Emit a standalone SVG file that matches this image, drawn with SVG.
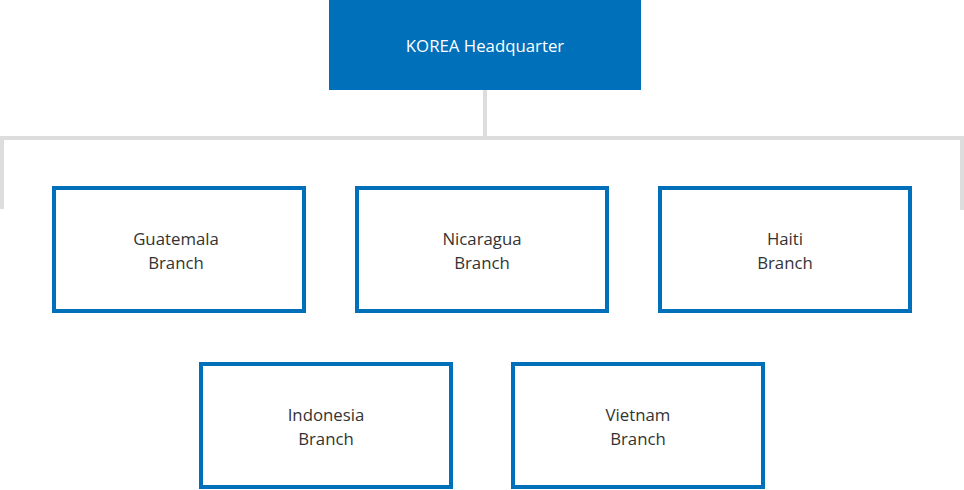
<svg xmlns="http://www.w3.org/2000/svg" width="964" height="490" viewBox="0 0 964 490">
<style>
.box{fill:#fff;stroke:#0070ba;stroke-width:4}
.t{font-family:"Open Sans","Noto Sans",sans-serif;font-size:16.8px;fill:#333;text-anchor:middle}
.hq{fill:#fff}
.ln{fill:none;stroke:#dddddd;stroke-width:4}
</style>
<rect width="964" height="490" fill="#fff"/>
<g id="connectors">
<path class="ln" d="M485 90V138M2 209V138H962V210"/>
</g>
<g id="hq">
<rect x="329" y="0" width="312" height="90" fill="#0070ba"/>
<text class="t hq" x="485" y="52">KOREA Headquarter</text>
</g>
<g id="guatemala">
<rect class="box" x="54" y="188" width="250" height="123"/>
<text class="t" x="176" y="245">Guatemala</text>
<text class="t" x="176" y="269">Branch</text>
</g>
<g id="nicaragua">
<rect class="box" x="357" y="188" width="250" height="123"/>
<text class="t" x="482" y="245">Nicaragua</text>
<text class="t" x="482" y="269">Branch</text>
</g>
<g id="haiti">
<rect class="box" x="660" y="188" width="250" height="123"/>
<text class="t" x="785" y="245">Haiti</text>
<text class="t" x="785" y="269">Branch</text>
</g>
<g id="indonesia">
<rect class="box" x="201" y="364" width="250" height="123"/>
<text class="t" x="326" y="421">Indonesia</text>
<text class="t" x="326" y="445">Branch</text>
</g>
<g id="vietnam">
<rect class="box" x="513" y="364" width="250" height="123"/>
<text class="t" x="638" y="421">Vietnam</text>
<text class="t" x="638" y="445">Branch</text>
</g>
</svg>
